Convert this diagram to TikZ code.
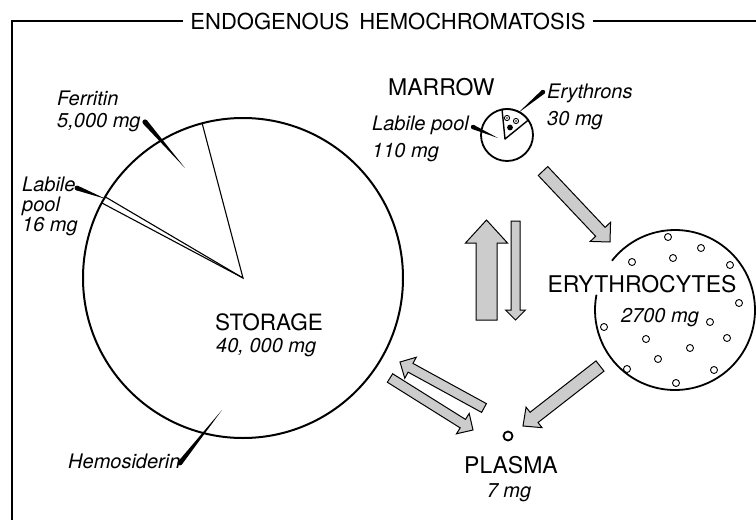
\documentclass[tikz,border=0pt]{standalone}
\usepackage{fontspec}
\setmainfont{TeX Gyre Heros}
\usetikzlibrary{calc}
\tikzset{
  lbl/.style={inner sep=0pt, font=\fontsize{20}{24}\selectfont\itshape},
  capt/.style={inner sep=0pt, font=\fontsize{22.5}{27}\selectfont},
  arrowfill/.style={draw=black, line width=1pt, fill=black!20, line join=miter},
  ring/.style={draw=black, line width=1.8pt},
  dotc/.style={draw=black, line width=0.9pt},
  wedgeline/.style={draw=black, line width=1.1pt},
  frame/.style={draw=black, line width=1.3pt},
}
\newcommand\blkarrow[5]{%
  \path ($(#2)!#5!(#1)$) coordinate (hb);
  \filldraw[arrowfill] ($(#1)!#3!90:(#2)$) -- ($(hb)!#3!90:(#2)$) -- ($(hb)!#4!90:(#2)$) -- (#2) -- ($(hb)!#4!-90:(#2)$) -- ($(hb)!#3!-90:(#2)$) -- ($(#1)!#3!-90:(#2)$) -- cycle;
}
\newcommand\ptrline[3]{%
  \fill ($(#1)!#3!90:(#2)$) -- (#2) -- ($(#1)!#3!-90:(#2)$) -- cycle;
  \fill (#1) circle[radius=#3];
}
\begin{document}
\begin{tikzpicture}[x=1pt,y=-1pt]
\useasboundingbox (0,0) rectangle (756,520);

% title and frame
\node[capt, anchor=base, font=\fontsize{22}{26}\selectfont] (title) at (388,29) {ENDOGENOUS\hspace{0.45em}HEMOCHROMATOSIS};
\coordinate (tl) at (12,21);
\draw[frame] ([xshift=-7pt]title.west |- tl) -- (tl) -- (12,520);
\draw[frame] ([xshift=7pt]title.east |- tl) -- (756,21);

% storage
\coordinate (sc) at (243,278);
\draw[line width=2pt] (sc) circle[radius=160pt];
\draw[wedgeline] ([shift={(104.8:160pt)}]sc) -- (sc) -- ([shift={(149.5:160pt)}]sc);
\draw[wedgeline] (sc) -- ([shift={(152:160pt)}]sc);

\node[lbl, anchor=base west] (fer) at (57,105) {Ferritin};
\node[lbl, anchor=base west] (ferv) at (57,127) {5,000 mg};
\node[lbl, anchor=base west] (lab1) at (22,191) {Labile};
\node[lbl, anchor=base west] (lab2) at (22,211) {pool};
\node[lbl, anchor=base west] (lab3) at (22,231) {16 mg};
\node[capt, anchor=base west] (stor) at (215,330) {STORAGE};
\node[lbl, anchor=base west] (storv) at (216,352) {40, 000 mg};
\node[lbl, anchor=base west] (hemo) at (68,468) {Hemosiderin};

\coordinate (pf1) at (145,122); \coordinate (pf2) at (185,168);
\ptrline{pf1}{pf2}{2.6pt}
\coordinate (pl1) at (77,188); \coordinate (pl2) at (106,199);
\ptrline{pl1}{pl2}{2.4pt}
\coordinate (ph1) at (180,463); \coordinate (ph2) at (222,410);
\ptrline{ph1}{ph2}{2.4pt}

% marrow
\coordinate (mc) at (507,135);
\draw[ring] (mc) circle[radius=26pt];
\coordinate (wa) at (505,139);
\draw[line width=1.4pt, line join=round] (wa) -- ([shift={(101:26pt)}]mc) arc[start angle=101, end angle=35, radius=26pt] -- cycle;
\draw[dotc] (507,118) circle[radius=2.6pt]; \fill (507,118) circle[radius=0.9pt];
\draw[dotc] (516,121) circle[radius=2.6pt]; \fill (516,121) circle[radius=0.9pt];
\fill (510,127.5) circle[radius=2.9pt];
\node[capt, anchor=base west, font=\fontsize{23}{27}\selectfont] (marrow) at (388,95) {MARROW};
\node[lbl, anchor=base west] (mlab) at (372,130) {Labile pool};
\node[lbl, anchor=base west] (mlabv) at (372,157) {110 mg};
\node[lbl, anchor=base west] (eryth) at (547,98) {Erythrons};
\node[lbl, anchor=base west] (erythv) at (547,125) {30 mg};
\coordinate (pm1) at (473,127); \coordinate (pm2) at (498,138);
\ptrline{pm1}{pm2}{2.2pt}
\coordinate (pe1) at (543,92); \coordinate (pe2) at (518,113);
\ptrline{pe1}{pe2}{2.2pt}

% erythrocytes
\coordinate (ec) at (675,310);
\draw[ring] ([shift={(142:80pt)}]ec) arc[start angle=142, end angle=-191, radius=80pt];
\foreach \p in {(668,237),(701,248),(673,258),(632,262),(730,265),(739,303),(710,322),(604,327),(727,338),(646,339),(690,348),(658,359),(627,369),(714,370),(676,383)}
  \draw[dotc] \p circle[radius=3.5pt];
\node[capt, anchor=base, font=\fontsize{23}{27}\selectfont] (ery) at (642,292) {ERYTHROCYTES};
\node[lbl, anchor=base] (eryv) at (660,322) {2700 mg};

% plasma
\draw[line width=1.8pt] (508,436) circle[radius=4.5pt];
\node[capt, anchor=base, font=\fontsize{23}{27}\selectfont] (plasma) at (511,473) {PLASMA};
\node[lbl, anchor=base] (plasmav) at (509,497) {7 mg};

% arrows
\coordinate (a1t) at (543,171); \coordinate (a1h) at (610,242);
\blkarrow{a1t}{a1h}{6.5pt}{14pt}{14pt}
\coordinate (a2t) at (486.5,320); \coordinate (a2h) at (486.5,220);
\blkarrow{a2t}{a2h}{10.5pt}{21pt}{23pt}
\coordinate (a3t) at (515.5,221); \coordinate (a3h) at (515.5,320);
\blkarrow{a3t}{a3h}{4.5pt}{10pt}{10pt}
\coordinate (a4t) at (484,408); \coordinate (a4h) at (400,362);
\blkarrow{a4t}{a4h}{5pt}{12pt}{12pt}
\coordinate (a5t) at (390,378); \coordinate (a5h) at (473,430);
\blkarrow{a5t}{a5h}{5pt}{12pt}{12pt}
\coordinate (a6t) at (600,366); \coordinate (a6h) at (523,426);
\blkarrow{a6t}{a6h}{6.5pt}{13pt}{14pt}
\end{tikzpicture}
\end{document}
